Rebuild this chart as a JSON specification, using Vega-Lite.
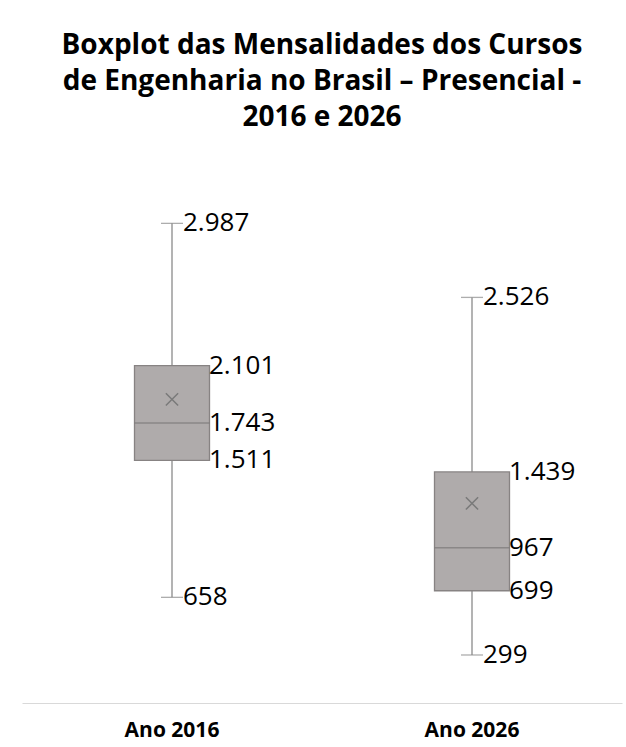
{
  "$schema": "https://vega.github.io/schema/vega-lite/v6.json",
  "autosize": "none",
  "width": 600,
  "height": 562,
  "padding": {"left": 22, "top": 141, "right": 4, "bottom": 44},
  "background": "white",
  "config": {"view": {"stroke": null}, "font": "Open Sans"},
  "title": {
    "text": ["Boxplot das Mensalidades dos Cursos", "de Engenharia no Brasil – Presencial -", "2016 e 2026"],
    "font": "Open Sans",
    "fontSize": 28,
    "fontWeight": "bold",
    "color": "#000000",
    "lineHeight": 36,
    "anchor": "middle",
    "offset": 9
  },
  "datasets": {
    "stats": [
      {"ano": "Ano 2016", "minimo": 658, "q1": 1511, "mediana": 1743, "q3": 2101, "maximo": 2987, "media": 1891},
      {"ano": "Ano 2026", "minimo": 299, "q1": 699, "mediana": 967, "q3": 1439, "maximo": 2526, "media": 1243}
    ],
    "rotulos": [
      {"ano": "Ano 2016", "valor": 2987, "rotulo": "2.987", "tipo": "extremo"},
      {"ano": "Ano 2016", "valor": 2101, "rotulo": "2.101", "tipo": "caixa"},
      {"ano": "Ano 2016", "valor": 1743, "rotulo": "1.743", "tipo": "caixa"},
      {"ano": "Ano 2016", "valor": 1511, "rotulo": "1.511", "tipo": "caixa"},
      {"ano": "Ano 2016", "valor": 658, "rotulo": "658", "tipo": "extremo"},
      {"ano": "Ano 2026", "valor": 2526, "rotulo": "2.526", "tipo": "extremo"},
      {"ano": "Ano 2026", "valor": 1439, "rotulo": "1.439", "tipo": "caixa"},
      {"ano": "Ano 2026", "valor": 967, "rotulo": "967", "tipo": "caixa"},
      {"ano": "Ano 2026", "valor": 699, "rotulo": "699", "tipo": "caixa"},
      {"ano": "Ano 2026", "valor": 299, "rotulo": "299", "tipo": "extremo"}
    ]
  },
  "encoding": {
    "x": {
      "field": "ano",
      "type": "nominal",
      "scale": {"type": "band", "paddingInner": 0, "paddingOuter": 0},
      "axis": {
        "title": null,
        "labelAngle": 0,
        "labelFont": "Open Sans",
        "labelFontSize": 21,
        "labelFontWeight": "bold",
        "labelColor": "#000000",
        "labelPadding": 16,
        "ticks": false,
        "domain": true,
        "domainColor": "#d9d9d9",
        "domainWidth": 1,
        "grid": false
      }
    }
  },
  "layer": [
    {
      "data": {"name": "stats"},
      "mark": {"type": "rule", "color": "#8a8a8a", "strokeWidth": 1.3},
      "encoding": {
        "y": {"field": "minimo", "type": "quantitative", "scale": {"domain": [0, 3500]}, "axis": null},
        "y2": {"field": "maximo"}
      }
    },
    {
      "data": {"name": "stats"},
      "mark": {"type": "tick", "color": "#8a8a8a", "size": 22, "thickness": 1.3},
      "encoding": {"y": {"field": "minimo", "type": "quantitative"}}
    },
    {
      "data": {"name": "stats"},
      "mark": {"type": "tick", "color": "#8a8a8a", "size": 22, "thickness": 1.3},
      "encoding": {"y": {"field": "maximo", "type": "quantitative"}}
    },
    {
      "data": {"name": "stats"},
      "mark": {"type": "bar", "size": 75, "fill": "#afabab", "stroke": "#878383", "strokeWidth": 1.3},
      "encoding": {
        "y": {"field": "q1", "type": "quantitative"},
        "y2": {"field": "q3"}
      }
    },
    {
      "data": {"name": "stats"},
      "mark": {"type": "tick", "color": "#7b7777", "size": 75, "thickness": 1.5},
      "encoding": {"y": {"field": "mediana", "type": "quantitative"}}
    },
    {
      "data": {"name": "stats"},
      "mark": {"type": "point", "shape": "M-1,-1L1,1M-1,1L1,-1", "filled": false, "stroke": "#7a7a7a", "strokeWidth": 1.5, "size": 150, "opacity": 1},
      "encoding": {"y": {"field": "media", "type": "quantitative"}}
    },
    {
      "data": {"name": "rotulos"},
      "transform": [{"filter": "datum.tipo === 'extremo'"}],
      "mark": {"type": "text", "align": "left", "baseline": "middle", "dx": 11, "fontSize": 26, "font": "Open Sans", "color": "#000000"},
      "encoding": {
        "y": {"field": "valor", "type": "quantitative"},
        "text": {"field": "rotulo"}
      }
    },
    {
      "data": {"name": "rotulos"},
      "transform": [{"filter": "datum.tipo === 'caixa'"}],
      "mark": {"type": "text", "align": "left", "baseline": "middle", "dx": 37, "fontSize": 26, "font": "Open Sans", "color": "#000000"},
      "encoding": {
        "y": {"field": "valor", "type": "quantitative"},
        "text": {"field": "rotulo"}
      }
    }
  ]
}
